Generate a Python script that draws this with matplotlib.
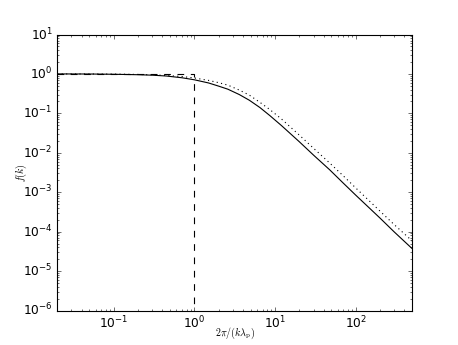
import numpy as np
import matplotlib
matplotlib.use('Agg')
import matplotlib.pyplot as plt

plt.style.use('classic')

# values
x = [0.02, 0.05, 0.1, 0.2, 0.3, 0.45, 0.7, 1.0, 1.5, 2.0, 2.6, 3.6, 4.8, 6.5,
     8.6, 12, 20, 30, 47.5, 70, 100, 200, 300, 500]
f_solid = [1.0, 0.995, 0.98, 0.955, 0.93, 0.885, 0.80, 0.71, 0.59, 0.49, 0.41,
           0.30, 0.215, 0.14, 0.088, 0.049, 0.019, 0.0087, 0.0037, 0.0017,
           8.4e-4, 2.2e-4, 9.8e-5, 3.7e-5]
f_dotted = [1.0, 0.997, 0.99, 0.97, 0.95, 0.915, 0.86, 0.79, 0.685, 0.60, 0.52,
            0.39, 0.29, 0.19, 0.125, 0.072, 0.028, 0.013, 0.0055, 0.0026,
            1.28e-3, 3.3e-4, 1.5e-4, 5.8e-5]

# step: 1 below the cut, 0 above
x_step = [0.02, 1.0, 1.0]
f_step = [1.0, 1.0, 1e-6]

fig = plt.figure(figsize=(5.725, 4.3125), dpi=80)
ax = fig.add_subplot(111)
ax.loglog(x, f_solid, 'k-')
ax.loglog(x, f_dotted, 'k:')
ax.loglog(x_step, f_step, 'k--')

ax.set_xlim(0.02, 500)
ax.set_ylim(1e-6, 10)
ax.tick_params(labelsize=11)
ax.set_xlabel(r'$2\pi/(k\lambda_{\rm p})$', fontsize=9, labelpad=-5)
ax.set_ylabel(r'$f(k)$', fontsize=9, labelpad=-5)

fig.savefig('out.png', dpi=80)
